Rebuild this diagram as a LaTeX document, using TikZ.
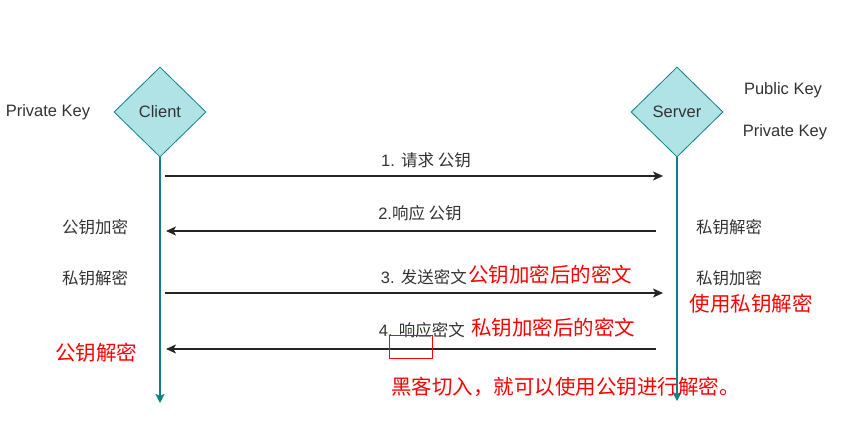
\documentclass[tikz,border=0pt]{standalone}
\usepackage{fontspec}
\setmainfont{Liberation Sans}
\newfontfamily\cjk{Noto Sans CJK SC}
\usetikzlibrary{shapes.geometric,arrows.meta}
\definecolor{tealfill}{HTML}{B0E3E6}
\definecolor{tealline}{HTML}{0E8088}
\definecolor{txt}{HTML}{333333}
\definecolor{redtxt}{HTML}{FF0000}
\tikzset{
  actor/.style={diamond, draw=tealline, fill=tealfill, line width=0.8pt, minimum width=92pt, minimum height=90pt, inner sep=0pt, font=\fontsize{16.5}{19}\selectfont, text=txt},
  lifeline/.style={draw=tealline, line width=1.6pt, -{Stealth[length=9pt,width=9pt,inset=2pt]}},
  msg/.style={draw=black!85, line width=1.1pt, -{Stealth[length=10pt,width=9pt,inset=2.5pt]}},
  lbl/.style={inner sep=0pt, font=\fontsize{16.5}{19}\selectfont, text=txt},
  redlbl/.style={inner sep=0pt, font=\fontsize{20.5}{24}\selectfont\cjk, text=redtxt},
}
\begin{document}
\begin{tikzpicture}[x=1pt,y=-1pt]
\useasboundingbox (0,0) rectangle (843,431);
\node[actor] (client) at (160,112) {Client};
\node[actor] (server) at (677,112) {Server};
\coordinate (cend) at (160,403);
\coordinate (send) at (677,401);
\draw[lifeline] (client.south) -- (cend);
\draw[lifeline] (server.south) -- (send);

\coordinate (a1s) at (165,176); \coordinate (a1e) at (663,176);
\coordinate (a2s) at (656,231); \coordinate (a2e) at (166,231);
\coordinate (a3s) at (165,293); \coordinate (a3e) at (663,293);
\coordinate (a4s) at (656,349); \coordinate (a4e) at (166,349);
\draw[msg] (a1s) -- (a1e);
\draw[msg] (a2s) -- (a2e);
\draw[msg] (a3s) -- (a3e);
\draw[msg] (a4s) -- (a4e);

\node[lbl] (m1) at (426,160) {1. {\cjk 请求 公钥}};
\node[lbl] (m2) at (420,213) {2.{\cjk 响应 公钥}};
\node[lbl, anchor=east] (m3) at (467,277) {3. {\cjk 发送密文}};
\node[redlbl, anchor=west] (m3r) at (468,275) {公钥加密后的密文};
\node[lbl, anchor=east] (m4) at (465,330) {4. {\cjk 响应密文}};
\node[redlbl, anchor=west] (m4r) at (471,328) {私钥加密后的密文};
\node[draw=redtxt, line width=1.6pt, minimum width=43pt, minimum height=23pt, inner sep=0pt] (hack) at (411,347) {};
\node[redlbl, anchor=west] (hacktxt) at (391,387) {黑客切入，就可以使用公钥进行解密。};

\node[lbl] (cpriv) at (48,112) {Private Key};
\node[lbl] (cenc) at (95,227) {\cjk 公钥加密};
\node[lbl] (cdec) at (95,278) {\cjk 私钥解密};
\node[redlbl] (cdec2) at (96,353) {公钥解密};

\node[lbl] (spub) at (783,90) {Public Key};
\node[lbl] (spriv) at (785,132) {Private Key};
\node[lbl] (sdec) at (729,227) {\cjk 私钥解密};
\node[lbl] (senc) at (729,278) {\cjk 私钥加密};
\node[redlbl] (sdec2) at (751,304) {使用私钥解密};
\end{tikzpicture}
\end{document}
